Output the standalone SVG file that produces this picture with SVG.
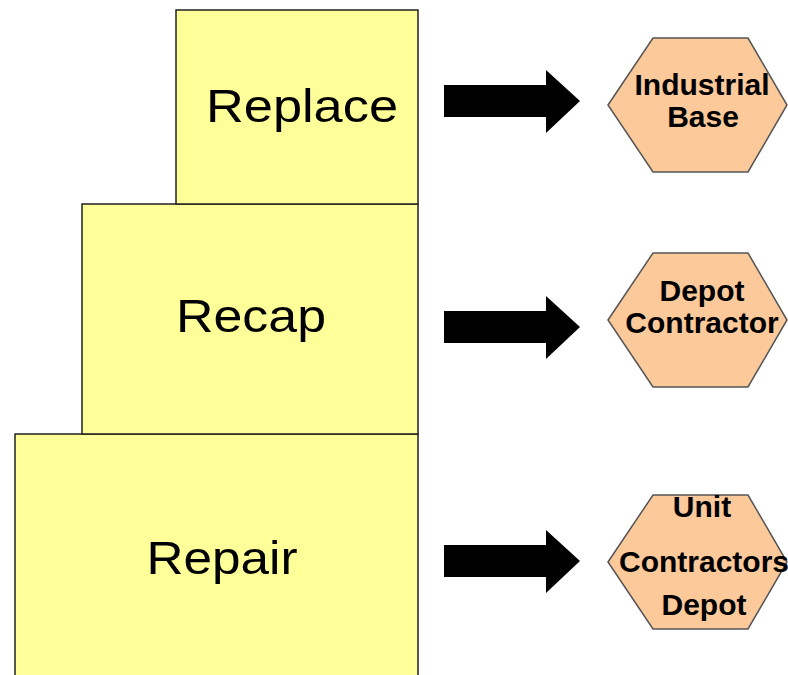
<svg xmlns="http://www.w3.org/2000/svg" width="788" height="675" viewBox="0 0 788 675">
<style>
.box{fill:#FFFF99;stroke:#222;stroke-width:1.5}
.hex{fill:#FBC99A;stroke:#555;stroke-width:1.5}
.lbl{font-family:"Liberation Sans",Arial,sans-serif;font-size:46px;fill:#000;text-anchor:middle}
.hl{font-family:"Liberation Sans",Arial,sans-serif;font-size:30px;font-weight:bold;fill:#000;text-anchor:middle}
.arr{fill:#000}
</style>
<defs>
<polygon id="arrow" class="arr" points="0,-16 102,-16 102,-31 136,0 102,32 102,16 0,16"/>
<polygon id="hexshape" class="hex" points="-90,0 -45,-67 50,-67 89,0 50,67 -45,67"/>
</defs>
<g id="box-repair">
<rect class="box" x="15" y="434" width="403" height="250"/>
<text class="lbl" x="222" y="574" textLength="151" lengthAdjust="spacingAndGlyphs">Repair</text>
</g>
<g id="box-recap">
<rect class="box" x="82" y="204" width="336" height="230"/>
<text class="lbl" x="251" y="332" textLength="150" lengthAdjust="spacingAndGlyphs">Recap</text>
</g>
<g id="box-replace">
<rect class="box" x="176" y="10" width="242" height="194"/>
<text class="lbl" x="302" y="122" textLength="192" lengthAdjust="spacingAndGlyphs">Replace</text>
</g>
<g id="connectors">
<use href="#arrow" x="444" y="101"/>
<use href="#arrow" x="444" y="327"/>
<use href="#arrow" x="444" y="561"/>
</g>
<g id="hex-industrial">
<use href="#hexshape" x="698" y="105"/>
<text class="hl" x="702" y="95">Industrial</text>
<text class="hl" x="703" y="127">Base</text>
</g>
<g id="hex-depot">
<use href="#hexshape" x="698" y="320"/>
<text class="hl" x="702" y="301">Depot</text>
<text class="hl" x="702" y="333">Contractor</text>
</g>
<g id="hex-unit">
<use href="#hexshape" x="698" y="562"/>
<text class="hl" x="702" y="517">Unit</text>
<text class="hl" x="704" y="572">Contractors</text>
<text class="hl" x="704" y="615">Depot</text>
</g>
</svg>
